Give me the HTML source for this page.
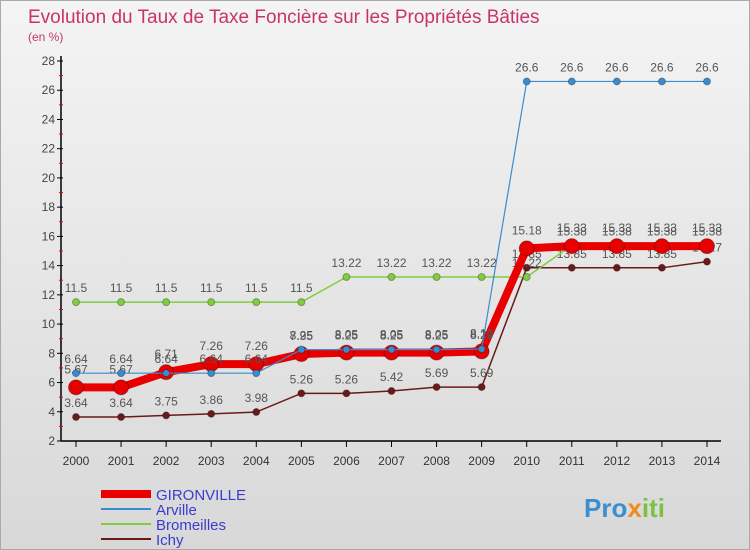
<!DOCTYPE html>
<html><head><meta charset="utf-8"><style>
html,body{margin:0;padding:0;width:750px;height:550px;overflow:hidden}
#c{width:750px;height:550px;position:relative;overflow:hidden;font-family:"Liberation Sans",sans-serif;background:linear-gradient(#f4f4f4,#d8d8d8);border:1px solid #aaa;box-sizing:border-box}
svg{display:block;position:absolute;left:0;top:0}
</style></head><body>
<div id="c">
<svg id="s" width="748" height="548" xmlns="http://www.w3.org/2000/svg">
<text x="27" y="22" font-size="19" fill="#c8336e">Evolution du Taux de Taxe Foncière sur les Propriétés Bâties</text>
<text x="27" y="40" font-size="12" fill="#c8336e">(en %)</text>
<g id="axes"></g><g id="series"></g><g id="legend"></g>
<text x="583" y="516" font-size="26" font-weight="bold" fill="#3a8fd0">Pro<tspan fill="#f08a1c">x</tspan><tspan fill="#7cc242">iti</tspan></text>
</svg>
</div>
<script>
const years=[2000,2001,2002,2003,2004,2005,2006,2007,2008,2009,2010,2011,2012,2013,2014];
const yTicks=[2,4,6,8,10,12,14,16,18,20,22,24,26,28];
const gironville=[5.67,5.67,6.71,7.26,7.26,7.95,8.05,8.05,8.05,8.13,15.18,15.33,15.33,15.33,15.33];
const arville=[6.64,6.64,6.64,6.64,6.64,8.25,8.25,8.25,8.25,8.29,26.6,26.6,26.6,26.6,26.6];
const bromeilles=[11.5,11.5,11.5,11.5,11.5,11.5,13.22,13.22,13.22,13.22,13.22,15.38,15.38,15.38,15.38];
const ichy=[3.64,3.64,3.75,3.86,3.98,5.26,5.26,5.42,5.69,5.69,13.85,13.85,13.85,13.85,14.27];
const NS="http://www.w3.org/2000/svg";
const X=i=>75+i*(706-75)/(years.length-1);
const Y=v=>440-(v-2)*(380/26);
function mk(t,a,p){const e=document.createElementNS(NS,t);for(const k in a)e.setAttribute(k,a[k]);p.appendChild(e);return e;}
const ax=document.getElementById('axes');
let l=mk('line',{x1:60,y1:55,x2:60,y2:440,stroke:'#000','stroke-width':1.5},ax);


l=mk('line',{x1:60,y1:440,x2:720,y2:440,stroke:'#000','stroke-width':1.5},ax);


yTicks.forEach(v=>{
 mk('line',{x1:56,y1:Y(v),x2:62,y2:Y(v),stroke:'#000'},ax);
 if(v<28) mk('line',{x1:58,y1:Y(v+1),x2:62,y2:Y(v+1),stroke:'#e00'},ax);
 const t=mk('text',{x:54,y:Y(v)+4,'font-size':12,fill:'#444','text-anchor':'end'},ax);t.textContent=v;
 
 
});
years.forEach((y,i)=>{
 mk('line',{x1:X(i),y1:440,x2:X(i),y2:446,stroke:'#000'},ax);
 const t=mk('text',{x:X(i),y:464,'font-size':12,fill:'#333','text-anchor':'middle'},ax);t.textContent=y;
 
 
});
const sg=document.getElementById('series');
function series(name,data,color,w,r,labOff){
 const g=mk('g',{},sg);
 
 
 const p=mk('polyline',{points:data.map((v,i)=>X(i)+','+Y(v)).join(' '),fill:'none',stroke:color,'stroke-width':w},g);
 
 
 data.forEach((v,i)=>{
  const c=mk('circle',{cx:X(i),cy:Y(v),r:r,fill:color,stroke:'rgba(0,0,0,0.3)'},g);
  
  
  const t=mk('text',{x:X(i),y:Y(v)-labOff,'font-size':12,fill:'#555','text-anchor':'middle'},g);t.textContent=v;
  
  
 });
}
series('ichy',ichy,'#6b1a1a',1.5,3.5,10);
series('bromeilles',bromeilles,'#7fce3e',1.5,3.5,10);
series('gironville',gironville,'#e80000',8,7.5,14);
series('arville',arville,'#3a8cd0',1.2,3.5,10);
const lg=document.getElementById('legend');
[['GIRONVILLE','#e80000',8],['Arville','#3a8cd0',2],['Bromeilles','#7fce3e',2],['Ichy','#6b1a1a',2]].forEach((d,i)=>{
 const y=493+i*15;
 mk('line',{x1:100,y1:y,x2:150,y2:y,stroke:d[1],'stroke-width':d[2]},lg);
 const t=mk('text',{x:155,y:y+6,'font-size':15,fill:'#3b3bd0'},lg);t.textContent=d[0];
 
 
});
</script>
</body></html>
